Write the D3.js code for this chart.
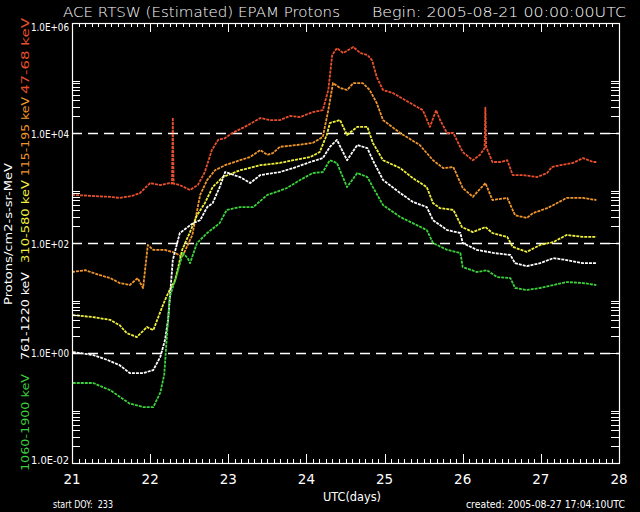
<!DOCTYPE html>
<html><head><meta charset="utf-8">
<script src="https://cdn.jsdelivr.net/npm/d3@7"></script>
<style>html,body{margin:0;padding:0;background:#000;}svg{display:block;}</style>
</head><body>
<script>
// ---------- data ----------
const xTickValues = [21,22,23,24,25,26,27,28];
const xTickLabels = ["21","22","23","24","25","26","27","28"];
const yTickValues = [1e-2,1e0,1e2,1e4,1e6];
const yTickLabels = ["1.0E-02","1.0E+00","1.0E+02","1.0E+04","1.0E+06"];
const gridValues = [1e0,1e2,1e4];
const channelNames = ["1060-1900 keV","761-1220 keV","310-580 keV","115-195 keV","47-68 keV"];
const channelColors = ["#3cd23c","#ffffff","#f0f03c","#f0962d","#e8502d"];

const red_t = [21.00,21.23,21.49,21.61,21.77,21.87,22.00,22.13,22.25,22.28,22.29,22.30,22.38,22.51,22.61,22.70,22.79,22.87,22.96,23.05,23.21,23.41,23.53,23.66,23.79,23.92,24.08,24.21,24.28,24.33,24.39,24.47,24.53,24.60,24.69,24.78,24.84,24.90,24.98,25.11,25.33,25.49,25.58,25.66,25.71,25.80,25.88,26.00,26.13,26.22,26.28,26.29,26.30,26.38,26.48,26.57,26.64,26.77,26.95,27.08,27.14,27.25,27.41,27.54,27.67,27.71];
const red_v = [7.5e2,7.2e2,6.9e2,6.6e2,7.2e2,8.1e2,1.23e3,1.13e3,1.23e3,1.2e3,1.9e4,1.2e3,1.13e3,9.2e2,1.13e3,1.95e3,4.9e3,7.5e3,8.1e3,1.0e4,1.29e4,1.87e4,1.72e4,1.72e4,2.04e4,1.95e4,2.4e4,2.6e4,6.05e4,2.62e5,3.5e5,2.85e5,3.2e5,3.66e5,2.85e5,2.62e5,2.1e5,1.04e5,6.05e4,5.3e4,3.5e4,2.6e4,1.29e4,2.6e4,1.72e4,1.0e4,1.0e4,4.5e3,3.2e3,4.0e3,5.3e3,2.9e4,5.6e3,2.97e3,2.97e3,3.2e3,1.72e3,1.72e3,1.58e3,1.87e3,2.4e3,2.6e3,2.85e3,3.5e3,2.97e3,2.97e3];

const orange_t = [21.00,21.17,21.36,21.49,21.61,21.74,21.84,21.91,21.97,22.04,22.19,22.32,22.41,22.54,22.64,22.73,22.83,22.96,23.15,23.28,23.41,23.50,23.57,23.66,23.88,24.08,24.21,24.28,24.34,24.43,24.52,24.60,24.72,24.81,24.90,24.98,25.20,25.45,25.62,25.75,25.88,26.00,26.13,26.29,26.38,26.57,26.67,26.82,26.90,27.08,27.16,27.33,27.54,27.71];
const orange_v = [29.7,32,26,23,18.7,17.2,23,15.2,92,75,75,66,55.7,1.4e2,7.5e2,1.4e3,2.1e3,2.6e3,3.2e3,3.66e3,4.9e3,4.0e3,4.3e3,5.6e3,6.05e3,6.6e3,8.5e3,2.6e4,8.1e4,6.6e4,6.05e4,8.1e4,8.1e4,6.05e4,3.5e4,1.72e4,1.0e4,6.05e3,3.2e3,2.3e3,2.4e3,1.0e3,6.9e2,1.23e3,6.05e2,6.6e2,3.2e2,2.85e2,3.5e2,4.3e2,4.9e2,6.6e2,6.6e2,6.05e2];

const yellow_t = [21.01,21.27,21.49,21.61,21.70,21.83,21.96,22.04,22.13,22.19,22.25,22.32,22.41,22.51,22.60,22.70,22.80,22.93,23.15,23.41,23.66,23.83,24.05,24.17,24.26,24.30,24.43,24.52,24.65,24.78,24.85,24.98,25.20,25.36,25.54,25.62,25.71,25.88,25.99,26.13,26.29,26.38,26.57,26.64,26.82,26.99,27.16,27.33,27.54,27.71];
const yellow_v = [4.9,4.5,4.0,3.2,2.3,1.95,2.97,2.6,5.6,9.2,14,21,75,1.58e2,3.2e2,5.3e2,1.04e3,1.58e3,2.1e3,2.6e3,2.85e3,3.2e3,3.66e3,4.5e3,9.2e3,1.52e4,1.72e4,9.2e3,1.29e4,1.29e4,6.6e3,3.2e3,2.3e3,1.52e3,1.04e3,5.3e2,4.3e2,4.0e2,1.95e2,1.58e2,1.95e2,1.52e2,1.29e2,85,69,92,1.04e2,1.4e2,1.29e2,1.29e2];

const white_t = [21.01,21.27,21.45,21.61,21.74,21.91,22.04,22.13,22.19,22.23,22.29,22.38,22.55,22.64,22.73,22.80,22.89,22.96,23.15,23.28,23.41,23.66,23.83,24.05,24.21,24.30,24.39,24.52,24.65,24.78,24.85,24.98,25.20,25.36,25.54,25.62,25.80,25.97,26.00,26.18,26.39,26.61,26.67,26.82,26.99,27.16,27.33,27.54,27.71];
const white_v = [1.04,0.92,0.75,0.6,0.43,0.43,0.49,0.85,1.72,4.0,49,1.52e2,2.3e2,2.6e2,4.5e2,5.3e2,1.04e3,1.95e3,1.58e3,1.23e3,1.72e3,1.95e3,2.3e3,2.97e3,3.5e3,5.6e3,7.5e3,3.2e3,6.05e3,5.3e3,3.2e3,1.4e3,8.1e2,5.6e2,4.5e2,2.6e2,1.72e2,1.52e2,1.0e2,75,66,60.5,43,38,43,53,49,43,43];

const green_t = [21.01,21.27,21.49,21.61,21.74,21.91,22.04,22.13,22.18,22.22,22.25,22.32,22.42,22.48,22.51,22.60,22.73,22.89,22.98,23.15,23.32,23.50,23.62,23.75,23.92,24.08,24.21,24.30,24.39,24.52,24.65,24.78,24.85,24.98,25.20,25.36,25.54,25.62,25.80,25.97,26.00,26.18,26.31,26.44,26.61,26.67,26.82,26.99,27.16,27.33,27.54,27.71];
const green_v = [0.285,0.285,0.21,0.16,0.12,0.104,0.104,0.19,0.4,2.6,10.4,21,66,53,43,1.0e2,1.52e2,2.3e2,4.0e2,4.5e2,4.5e2,7.5e2,8.5e2,1.0e3,1.4e3,1.87e3,1.95e3,3.2e3,2.85e3,1.04e3,1.87e3,1.58e3,1.04e3,4.9e2,2.97e2,2.3e2,1.72e2,1.0e2,75,66,36.6,29.7,32,24,23,15.2,14,15.2,17.2,19.5,18.7,17.2];

// ---------- chart ----------
const W = 640, H = 512;
const L = 72, R = 619, T = 23, B = 463;
const svg = d3.select("body").append("svg").attr("width", W).attr("height", H)
  .style("background", "#000");
const font = "'DejaVu Sans', sans-serif";

const x = d3.scaleLinear().domain([21, 28]).range([L, R]);
const y = d3.scaleLog().domain([1e-2, 1e6]).range([B, T]);

// dashed grid
svg.append("g").selectAll("line").data(gridValues).join("line")
  .attr("x1", L).attr("x2", R)
  .attr("y1", d => Math.round(y(d)) + 0.5).attr("y2", d => Math.round(y(d)) + 0.5)
  .attr("stroke", "#fff").attr("stroke-width", 1.3).attr("stroke-dasharray", "10,6");

// series
const series = [
  {t: red_t, v: red_v, c: "#e8502d"},
  {t: orange_t, v: orange_v, c: "#f0962d"},
  {t: yellow_t, v: yellow_v, c: "#f0f03c"},
  {t: white_t, v: white_v, c: "#ffffff"},
  {t: green_t, v: green_v, c: "#3cd23c"}
];
const line = d3.line().x(d => x(d[0])).y(d => y(d[1]));
series.forEach(s => {
  const pts = s.t.map((t, i) => [t, s.v[i]]);
  svg.append("path").attr("d", line(pts)).attr("fill", "none")
    .attr("stroke", s.c).attr("stroke-width", 1.8).attr("stroke-linejoin", "round")
    .attr("stroke-dasharray", "3,1");
});

// axes (ticks inward)
const minorX = d3.range(21, 28.0001, 1/12).filter(d => Math.abs(d - Math.round(d)) > 1e-6);
const minorY = [];
[-2, 0, 2, 4].forEach(k => { for (let m = 2; m <= 9; m++) minorY.push(m * Math.pow(10, k)); });

function styleAxis(g) {
  g.select(".domain").remove();
  g.selectAll("line").attr("stroke", "#fff").attr("shape-rendering", "crispEdges");
  g.selectAll("text").remove();
}
svg.append("g").attr("transform", `translate(0,${B})`)
  .call(d3.axisBottom(x).tickValues(xTickValues).tickSize(-9).tickFormat("")).call(styleAxis);
svg.append("g").attr("transform", `translate(0,${B})`)
  .call(d3.axisBottom(x).tickValues(minorX).tickSize(-4).tickFormat("")).call(styleAxis);
svg.append("g").attr("transform", `translate(0,${T})`)
  .call(d3.axisTop(x).tickValues(xTickValues).tickSize(-9).tickFormat("")).call(styleAxis);
svg.append("g").attr("transform", `translate(0,${T})`)
  .call(d3.axisTop(x).tickValues(minorX).tickSize(-4).tickFormat("")).call(styleAxis);
svg.append("g").attr("transform", `translate(${L},0)`)
  .call(d3.axisLeft(y).tickValues(yTickValues).tickSize(-10).tickFormat("")).call(styleAxis);
svg.append("g").attr("transform", `translate(${L},0)`)
  .call(d3.axisLeft(y).tickValues(minorY).tickSize(-8).tickFormat("")).call(styleAxis);
svg.append("g").attr("transform", `translate(${R},0)`)
  .call(d3.axisRight(y).tickValues(yTickValues).tickSize(-10).tickFormat("")).call(styleAxis);
svg.append("g").attr("transform", `translate(${R},0)`)
  .call(d3.axisRight(y).tickValues(minorY).tickSize(-8).tickFormat("")).call(styleAxis);

// frame
svg.append("rect").attr("x", L + 0.5).attr("y", T + 0.5).attr("width", R - L).attr("height", B - T)
  .attr("fill", "none").attr("stroke", "#fff").attr("stroke-width", 1.2);

// y tick labels
const yLabelShift = [-3, 0, 1, 1, 4];
svg.append("g").selectAll("text").data(yTickValues).join("text")
  .attr("x", 69).attr("y", (d, i) => y(d) + yLabelShift[i] + 3.5)
  .attr("text-anchor", "end").attr("fill", "#fff")
  .attr("font-family", font).attr("font-size", 10.5)
  .attr("textLength", 38).attr("lengthAdjust", "spacingAndGlyphs")
  .text((d, i) => yTickLabels[i]);

// x tick labels
svg.append("g").selectAll("text").data(xTickValues).join("text")
  .attr("x", d => x(d)).attr("y", 484)
  .attr("text-anchor", "middle").attr("fill", "#fff")
  .attr("font-family", font).attr("font-size", 13.5)
  .text((d, i) => xTickLabels[i]);

// title
svg.append("text").attr("x", 63).attr("y", 17).attr("fill", "#fff")
  .attr("font-family", font).attr("font-size", 14.5).attr("font-weight", 200)
  .attr("textLength", 277).attr("lengthAdjust", "spacingAndGlyphs")
  .text("ACE RTSW (Estimated) EPAM Protons");
svg.append("text").attr("x", 372).attr("y", 17).attr("fill", "#fff")
  .attr("font-family", font).attr("font-size", 14.5).attr("font-weight", 200)
  .attr("textLength", 254).attr("lengthAdjust", "spacingAndGlyphs")
  .text("Begin: 2005-08-21 00:00:00UTC");

// x axis title and footers
svg.append("text").attr("x", 352).attr("y", 501).attr("text-anchor", "middle").attr("fill", "#fff")
  .attr("font-family", font).attr("font-size", 13)
  .attr("textLength", 58).attr("lengthAdjust", "spacingAndGlyphs")
  .text("UTC(days)");
svg.append("text").attr("x", 53).attr("y", 508).attr("fill", "#fff")
  .attr("font-family", font).attr("font-size", 10).style("white-space", "pre")
  .attr("textLength", 60).attr("lengthAdjust", "spacingAndGlyphs")
  .text("start DOY:  233");
svg.append("text").attr("x", 466).attr("y", 508).attr("fill", "#fff")
  .attr("font-family", font).attr("font-size", 10)
  .attr("textLength", 159).attr("lengthAdjust", "spacingAndGlyphs")
  .text("created: 2005-08-27 17:04:10UTC");

// rotated y title
svg.append("text").attr("transform", "translate(12,305) rotate(-90)")
  .attr("fill", "#fff").attr("font-family", font).attr("font-size", 11)
  .attr("textLength", 142).attr("lengthAdjust", "spacingAndGlyphs")
  .text("Protons/cm2-s-sr-MeV");

// rotated channel labels
const chanStart = [471, 360, 263, 176, 94];
const chanLen = [97, 88, 83, 79, 76];
channelNames.forEach((n, i) => {
  svg.append("text").attr("transform", `translate(28.5,${chanStart[i]}) rotate(-90)`)
    .attr("fill", channelColors[i]).attr("font-family", font).attr("font-size", 11)
    .attr("textLength", chanLen[i]).attr("lengthAdjust", "spacingAndGlyphs")
    .text(n);
});
</script>
</body></html>
